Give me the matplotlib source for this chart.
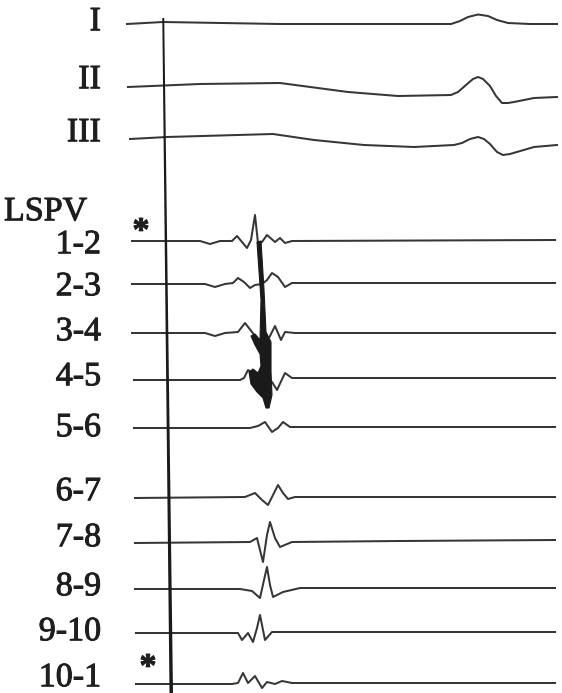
import matplotlib.pyplot as plt
import matplotlib.patheffects as pe
import numpy as np

# trace knots: (time position, signal level) in pixel units
lead_I = [(127, 24), (163, 22), (280, 24), (400, 24), (451, 24), (460, 21),
          (468, 17), (478, 14.5), (488, 16), (497, 20), (508, 23), (530, 24), (557, 24)]
lead_II = [(128, 87), (200, 84), (280, 83), (348, 92), (398, 96), (451, 95),
           (458, 92), (466, 85), (473, 79), (478, 77), (483, 79), (490, 86),
           (496, 96), (502, 103), (508, 103), (514, 102), (534, 98), (557, 97)]
lead_III = [(130, 139), (167, 137), (273, 134), (314, 140), (364, 145), (414, 147),
            (454, 145), (462, 143), (470, 139), (478, 137), (484, 139), (490, 144),
            (497, 152), (503, 155), (510, 154), (534, 147), (557, 145)]

lspv_12 = [(132, 241), (200, 241), (210, 244), (220, 241), (232, 241), (237, 236),
           (242, 242), (247, 248), (251, 240), (255, 215), (258, 243), (262, 242),
           (267, 235), (275, 242), (280, 238), (285, 243), (292, 241), (555, 240)]
lspv_23 = [(132, 284), (205, 284), (215, 287), (225, 284), (233, 283), (238, 278),
           (244, 282), (250, 288), (255, 285), (262, 284), (267, 280), (272, 273),
           (278, 277), (285, 287), (292, 283), (555, 283)]
lspv_34 = [(132, 333), (205, 333), (215, 336), (225, 333), (238, 332), (245, 323),
           (252, 332), (258, 340), (265, 345), (270, 336), (275, 326), (281, 340),
           (285, 332), (295, 333), (555, 333)]
lspv_45 = [(134, 380), (240, 380), (244, 378), (248, 370), (256, 376), (266, 382),
           (272, 382), (277, 390), (285, 373), (292, 378), (555, 378)]
lspv_56 = [(134, 428), (250, 428), (258, 426), (265, 422), (272, 432), (278, 428),
           (283, 422), (290, 427), (555, 427)]
lspv_67 = [(135, 498), (245, 497), (250, 495), (255, 493), (262, 500), (268, 505),
           (273, 495), (278, 485), (283, 493), (288, 499), (295, 497), (555, 497)]
lspv_78 = [(135, 543), (250, 542), (257, 538), (263, 562), (267, 535), (270, 522),
           (275, 538), (280, 547), (292, 542), (400, 541), (555, 540)]
lspv_89 = [(135, 589), (232, 589), (240, 589), (252, 591), (260, 598), (264, 580),
           (267, 567), (270, 585), (273, 597), (283, 592), (300, 588), (555, 588)]
lspv_910 = [(136, 633), (232, 633), (238, 633), (242, 640), (248, 633), (253, 642),
            (257, 628), (260, 615), (265, 640), (272, 632), (555, 632)]
lspv_101 = [(136, 684), (232, 684), (238, 683), (243, 673), (248, 683), (255, 676),
            (262, 688), (267, 682), (275, 684), (282, 681), (292, 683), (555, 683)]

traces = [lead_I, lead_II, lead_III, lspv_12, lspv_23, lspv_34, lspv_45,
          lspv_56, lspv_67, lspv_78, lspv_89, lspv_910, lspv_101]

labels = ["I", "II", "III", "1-2", "2-3", "3-4", "4-5", "5-6",
          "6-7", "7-8", "8-9", "9-10", "10-1"]
label_y = [22, 80, 133, 245, 287, 332, 377, 428, 492, 538, 587, 632, 678]

# sweep marker (left/right edges, it widens downwards)
marker_y = [18, 693]
marker_left = [162.3, 169.5]
marker_right = [164.2, 173.0]
# outline of the heavy activation smear across bipoles 1-2 .. 4-5
smear_outline = [(257, 242), (261, 241), (264, 290), (266, 332), (271, 342),
                 (271, 372), (272, 395), (269, 408), (266, 408), (263, 398),
                 (257, 392), (251, 384), (249, 372), (253, 369), (258, 373),
                 (261, 366), (260, 354), (255, 345), (251, 336), (255, 334),
                 (260, 340), (261, 300)]

ink = "#1a1a1a"
fig = plt.figure(figsize=(5.62, 6.93), dpi=100)
ax = fig.add_axes([0, 0, 1, 1])
ax.set_xlim(0, 562)
ax.set_ylim(693, 0)
ax.axis("off")

for tr in traces:
    xs, ys = zip(*tr)
    ax.plot(xs, ys, color=ink, lw=1.45, solid_joinstyle="round", alpha=0.88)

ax.fill(marker_left + marker_right[::-1], marker_y + marker_y[::-1],
        color=ink, lw=0)

sx, sy = zip(*smear_outline)
ax.fill(sx, sy, color=ink, lw=0.8, ec=ink)

heavy = [pe.withStroke(linewidth=0.7, foreground="#1e1e1e")]
font = dict(family="Liberation Serif", fontsize=24.5, color="#1e1e1e",
            path_effects=heavy)
for lab, y in zip(labels, label_y):
    ax.text(101, y, lab, ha="right", va="center", **font)
ax.text(4, 212, "LSPV", ha="left", va="center", **font)

ax.text(141, 232, "*", ha="center", va="center", fontweight="bold", **font)
ax.text(148, 668, "*", ha="center", va="center", fontweight="bold", **font)

fig.savefig("out.png", dpi=100)
